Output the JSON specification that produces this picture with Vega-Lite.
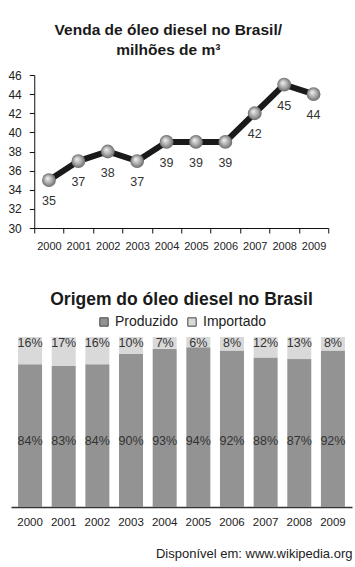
{
  "$schema": "https://vega.github.io/schema/vega-lite/v6.json",
  "background": "white",
  "padding": {"left": 7, "top": 22, "right": 5, "bottom": 3},
  "spacing": 39,
  "center": true,
  "resolve": {"legend": {"color": "independent"}},
  "config": {
    "font": "Liberation Sans",
    "view": {"stroke": null},
    "title": {"font": "Liberation Sans", "fontWeight": "bold", "color": "#1a1a1a"},
    "legend": {"layout": {"top": {"anchor": "middle"}}}
  },
  "vconcat": [
    {
      "title": {"text": ["Venda de óleo diesel no Brasil/", "milhões de m³"], "fontSize": 15.5, "lineHeight": 20, "frame": "bounds", "anchor": "middle", "offset": 11},
      "width": 283,
      "height": 153,
      "data": {"values": [
        {"year": "2000", "vendas": 35},
        {"year": "2001", "vendas": 37},
        {"year": "2002", "vendas": 38},
        {"year": "2003", "vendas": 37},
        {"year": "2004", "vendas": 39},
        {"year": "2005", "vendas": 39},
        {"year": "2006", "vendas": 39},
        {"year": "2007", "vendas": 42},
        {"year": "2008", "vendas": 45},
        {"year": "2009", "vendas": 44}
      ]},
      "encoding": {
        "x": {"field": "year", "type": "ordinal", "scale": {"paddingInner": 0, "paddingOuter": 0, "range": [0, 294]},
          "axis": {"title": null, "labelAngle": 0, "tickBand": "extent", "domainColor": "#111", "tickColor": "#111", "tickSize": 5, "labelFontSize": 11, "labelColor": "#222", "labelPadding": 7}},
        "y": {"field": "vendas", "type": "quantitative", "scale": {"domain": [30, 46], "nice": false, "zero": false},
          "axis": {"title": null, "values": [30, 32, 34, 36, 38, 40, 42, 44, 46], "grid": false, "domainColor": "#111", "tickColor": "#111", "tickSize": 5, "labelFontSize": 12, "labelColor": "#222", "labelPadding": 8}}
      },
      "layer": [
        {"mark": {"type": "line", "color": "#1a1a1a", "strokeWidth": 6}},
        {"mark": {"type": "point", "filled": true, "size": 190, "opacity": 1, "strokeWidth": 0,
          "fill": {"gradient": "radial", "x1": 0.38, "y1": 0.35, "r1": 0, "x2": 0.5, "y2": 0.5, "r2": 0.5,
            "stops": [{"offset": 0, "color": "#f4f4f4"}, {"offset": 0.6, "color": "#a8a8a8"}, {"offset": 1, "color": "#6a6a6a"}]}}},
        {"mark": {"type": "text", "dy": 21, "fontSize": 12.5, "color": "#333"}, "encoding": {"text": {"field": "vendas", "type": "quantitative"}}}
      ]
    },
    {
      "title": {"text": "Origem do óleo diesel no Brasil", "fontSize": 17.5, "anchor": "middle", "offset": 7},
      "width": 341,
      "height": 170,
      "data": {"values": [
        {"year": "2000", "tipo": "Produzido", "share": 0.84}, {"year": "2000", "tipo": "Importado", "share": 0.16},
        {"year": "2001", "tipo": "Produzido", "share": 0.83}, {"year": "2001", "tipo": "Importado", "share": 0.17},
        {"year": "2002", "tipo": "Produzido", "share": 0.84}, {"year": "2002", "tipo": "Importado", "share": 0.16},
        {"year": "2003", "tipo": "Produzido", "share": 0.90}, {"year": "2003", "tipo": "Importado", "share": 0.10},
        {"year": "2004", "tipo": "Produzido", "share": 0.93}, {"year": "2004", "tipo": "Importado", "share": 0.07},
        {"year": "2005", "tipo": "Produzido", "share": 0.94}, {"year": "2005", "tipo": "Importado", "share": 0.06},
        {"year": "2006", "tipo": "Produzido", "share": 0.92}, {"year": "2006", "tipo": "Importado", "share": 0.08},
        {"year": "2007", "tipo": "Produzido", "share": 0.88}, {"year": "2007", "tipo": "Importado", "share": 0.12},
        {"year": "2008", "tipo": "Produzido", "share": 0.87}, {"year": "2008", "tipo": "Importado", "share": 0.13},
        {"year": "2009", "tipo": "Produzido", "share": 0.92}, {"year": "2009", "tipo": "Importado", "share": 0.08}
      ]},
      "encoding": {
        "x": {"field": "year", "type": "ordinal", "scale": {"paddingInner": 0.287, "paddingOuter": 0.21},
          "axis": {"title": "Disponível em: www.wikipedia.org", "titleAnchor": "end", "titleAlign": "right", "titleFontWeight": "normal", "titleFontSize": 13, "titleColor": "#222", "titlePadding": 20,
            "labelAngle": 0, "ticks": false, "domainColor": "#333", "domainWidth": 1.5, "labelFontSize": 11.5, "labelColor": "#222", "labelPadding": 9}}
      },
      "layer": [
        {"mark": {"type": "bar"},
          "encoding": {
            "y": {"field": "share", "type": "quantitative", "stack": "zero", "scale": {"domain": [0, 1], "nice": false}, "axis": null},
            "color": {"field": "tipo", "type": "nominal", "scale": {"domain": ["Produzido", "Importado"], "range": ["#939393", "#d9d9d9"]},
              "legend": {"title": null, "orient": "top", "direction": "horizontal", "symbolType": "square", "symbolSize": 70, "symbolStrokeColor": "#444", "symbolStrokeWidth": 1, "labelFontSize": 14, "labelColor": "#222", "columnPadding": 6, "offset": 8}},
            "order": {"field": "tipo", "sort": "descending"}
          }},
        {"transform": [{"filter": "datum.tipo === 'Importado'"}],
          "mark": {"type": "text", "fontSize": 12.5, "color": "#333"},
          "encoding": {"y": {"datum": 0.965, "type": "quantitative"}, "text": {"field": "share", "type": "quantitative", "format": ".0%"}}},
        {"transform": [{"filter": "datum.tipo === 'Produzido'"}],
          "mark": {"type": "text", "fontSize": 12.5, "color": "#333"},
          "encoding": {"y": {"datum": 0.39, "type": "quantitative"}, "text": {"field": "share", "type": "quantitative", "format": ".0%"}}}
      ]
    }
  ]
}
